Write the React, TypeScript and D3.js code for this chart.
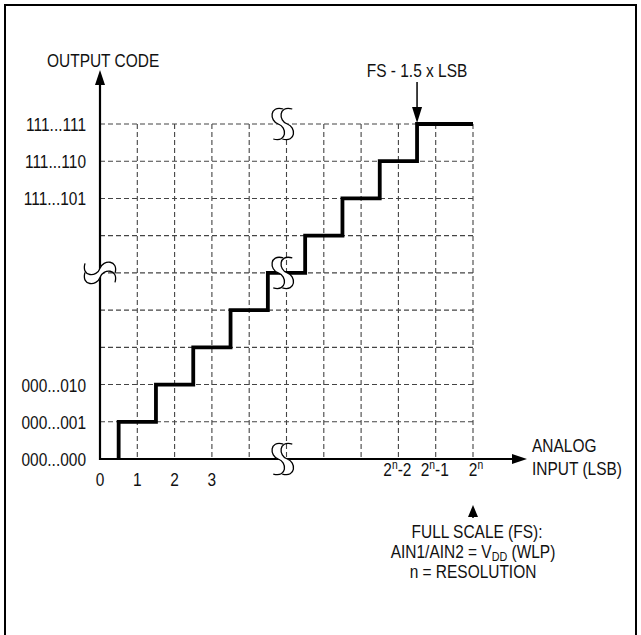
import React, { useEffect } from "react"
import * as d3 from "d3"

// input steps (LSB) where output code changes, and the code reached
const stepX = [0.5, 0.5, 1.5, 2.5, 3.5, 4.5, 5.5, 6.5, 7.5, 8.5, 10]
const stepY = [0, 1, 2, 3, 4, 5, 6, 7, 8, 9, 9]

const gridCols = [1, 2, 3, 4, 5, 6, 7, 8, 9, 10]
const gridRows = [1, 2, 3, 4, 5, 6, 7, 8, 9]

const yTicks = [0, 1, 2, 7, 8, 9]
const yTickLabels = ["000...000", "000...001", "000...010", "111...101", "111...110", "111...111"]

const xTicksLow = [0, 1, 2, 3]
const xTicksLowLabels = ["0", "1", "2", "3"]
const xTicksHigh = [8, 9, 10]
const xTicksHighSuffix = ["-2", "-1", ""]

// break marks: [x, y, orientation]
const breaks: [number, number, "v" | "h"][] = [
  [4.9, 9, "v"],
  [4.9, 5, "v"],
  [4.9, 0, "v"],
  [0, 5, "h"],
]

const fsMarkX = 8.5
const fullScaleX = 10

const FONT = "'Liberation Sans', Arial, sans-serif"
const FS = 18
const NARROW = 0.86

const W = 641
const H = 635

// condensed text: the original uses a narrow Helvetica
function NText({
  x,
  y,
  anchor = "start",
  children,
}: {
  x: number
  y: number
  anchor?: "start" | "middle" | "end"
  children: React.ReactNode
}) {
  return (
    <text transform={`translate(${x},${y}) scale(${NARROW},1)`} textAnchor={anchor} fontSize={FS} fill="#111">
      {children}
    </text>
  )
}

export default function App() {
  useEffect(() => {
    document.body.style.margin = "0"
  }, [])

  const x = d3.scaleLinear().domain([0, 10]).range([100, 473])
  const y = d3.scaleLinear().domain([0, 9]).range([459, 124])

  const stepLine = d3
    .line<number>()
    .x((_, i) => x(stepX[i]))
    .y((d) => y(d))
    .curve(d3.curveStepAfter)

  const sCurve = (cx: number, cy: number, m = "M") =>
    `${m}${cx + 5},${cy - 15} C${cx - 9},${cy - 19} ${cx - 9},${cy - 3} ${cx},${cy} C${cx + 9},${cy + 3} ${cx + 9},${cy + 19} ${cx - 5},${cy + 15}`
  const sCurveRev = (cx: number, cy: number) =>
    `L${cx - 5},${cy + 15} C${cx + 9},${cy + 19} ${cx + 9},${cy + 3} ${cx},${cy} C${cx - 9},${cy - 3} ${cx - 9},${cy - 19} ${cx + 5},${cy - 15}`
  const gap = 9

  const xAxisEnd = 527
  const yAxisTop = 70

  return (
    <svg width={W} height={H} style={{ position: "absolute", left: 0, top: 0, background: "#fff" }} fontFamily={FONT}>
      <rect x={5} y={5} width={631} height={H + 10} fill="none" stroke="#000" strokeWidth={2} />

      {/* grid */}
      <g stroke="#444" strokeWidth={1.1} strokeDasharray="5 3" fill="none">
        {gridRows.map((r) => (
          <line key={"r" + r} x1={x(0)} x2={x(10)} y1={y(r)} y2={y(r)} />
        ))}
        {gridCols.map((c) => (
          <line key={"c" + c} x1={x(c)} x2={x(c)} y1={y(9)} y2={y(0)} />
        ))}
      </g>

      {/* axes */}
      <line x1={x(0)} x2={xAxisEnd - 12} y1={y(0)} y2={y(0)} stroke="#000" strokeWidth={2.2} />
      <path d={`M${xAxisEnd},${y(0)} L${xAxisEnd - 15},${y(0) - 5} L${xAxisEnd - 15},${y(0) + 5} Z`} fill="#000" />
      <line x1={x(0)} x2={x(0)} y1={y(0) + 1} y2={yAxisTop + 12} stroke="#000" strokeWidth={2.2} />
      <path d={`M${x(0)},${yAxisTop} L${x(0) - 5},${yAxisTop + 15} L${x(0) + 5},${yAxisTop + 15} Z`} fill="#000" />

      {/* transfer function */}
      <path d={stepLine(stepY) ?? ""} fill="none" stroke="#000" strokeWidth={3.8} strokeLinejoin="miter" />

      {/* break marks */}
      {breaks.map(([bx, by, o], i) => {
        const cx = x(bx)
        const cy = y(by)
        const rot = o === "h" ? `rotate(90 ${cx} ${cy})` : undefined
        const left = sCurve(cx - gap / 2, cy)
        const right = sCurve(cx + gap / 2, cy)
        const fillD = `${sCurve(cx + gap / 2, cy)} ${sCurveRev(cx - gap / 2, cy)} Z`
        return (
          <g key={i} transform={rot}>
            <path d={fillD} fill="#fff" stroke="none" />
            <path d={left} fill="none" stroke="#000" strokeWidth={1.3} />
            <path d={right} fill="none" stroke="#000" strokeWidth={1.3} />
          </g>
        )
      })}

      {/* y ticks */}
      {yTicks.map((t, i) => (
        <NText key={t} x={x(0) - 14} y={y(t) + 7} anchor="end">
          {yTickLabels[i]}
        </NText>
      ))}

      {/* x ticks */}
      {xTicksLow.map((t, i) => (
        <NText key={t} x={x(t)} y={486} anchor="middle">
          {xTicksLowLabels[i]}
        </NText>
      ))}
      {xTicksHigh.map((t, i) => (
        <NText key={t} x={x(t) + (i === 2 ? 3 : -1)} y={476} anchor="middle">
          2<tspan fontSize={12} dy={-7}>n</tspan>
          <tspan dy={7}>{xTicksHighSuffix[i]}</tspan>
        </NText>
      ))}

      {/* labels */}
      <NText x={47} y={67}>OUTPUT CODE</NText>
      <NText x={532} y={452}>ANALOG</NText>
      <NText x={532} y={475}>INPUT (LSB)</NText>
      <NText x={x(fsMarkX)} y={77} anchor="middle">FS - 1.5 x LSB</NText>

      {/* FS - 1.5 LSB arrow */}
      <line x1={x(fsMarkX)} x2={x(fsMarkX)} y1={82} y2={112} stroke="#000" strokeWidth={1.5} />
      <path d={`M${x(fsMarkX)},${y(9) - 1} L${x(fsMarkX) - 5},${y(9) - 17} L${x(fsMarkX) + 5},${y(9) - 17} Z`} fill="#000" />

      {/* full scale arrow + note */}
      <line x1={x(fullScaleX)} x2={x(fullScaleX)} y1={514} y2={518} stroke="#000" strokeWidth={1.5} />
      <path d={`M${x(fullScaleX)},505 L${x(fullScaleX) - 5},517 L${x(fullScaleX) + 5},517 Z`} fill="#000" />
      <NText x={x(fullScaleX) + 4} y={538} anchor="middle">FULL SCALE (FS):</NText>
      <NText x={x(fullScaleX)} y={558} anchor="middle">
        AIN1/AIN2 = V<tspan fontSize={12.5} dy={3}>DD</tspan>
        <tspan dy={-3}> (WLP)</tspan>
      </NText>
      <NText x={x(fullScaleX)} y={578} anchor="middle">n = RESOLUTION</NText>
    </svg>
  )
}
